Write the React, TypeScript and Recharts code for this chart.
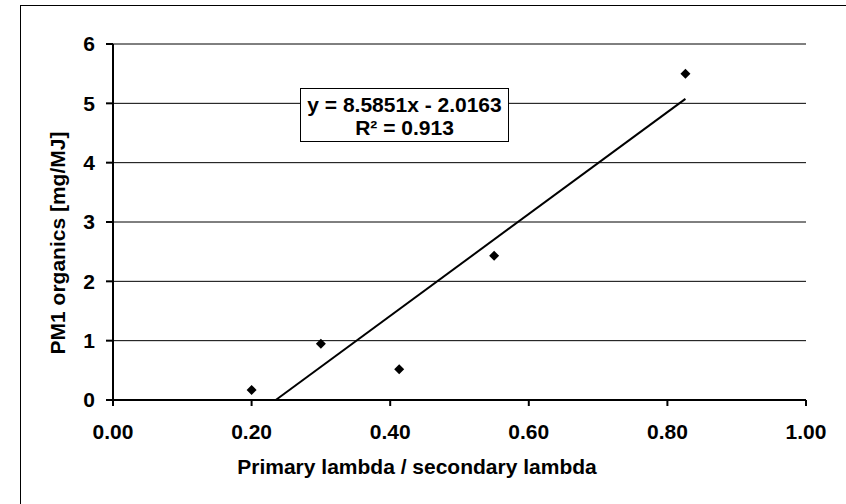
import { CartesianGrid, Label, ReferenceLine, Scatter, ScatterChart, XAxis, YAxis } from "recharts";

const lambdaRatio = [0.2, 0.3, 0.413, 0.55, 0.826];
const pm1Organics = [0.17, 0.95, 0.52, 2.43, 5.5];
const xTicks = [0, 0.2, 0.4, 0.6, 0.8, 1.0];
const yTicks = [0, 1, 2, 3, 4, 5, 6];

// trend line coefficients as printed in the chart
const slope = 8.5851;
const intercept = -2.0163;
const rSquared = 0.913;

const points = lambdaRatio.map((x, i) => ({ x, y: pm1Organics[i] }));

const font = "'Liberation Sans', Arial, sans-serif";
const tickStyle = { fontFamily: font, fontSize: 21, fontWeight: 700, fill: "#000" };

function Diamond(props: any) {
  const { cx, cy } = props;
  const r = 5;
  return <path d={`M${cx},${cy - r}L${cx + r},${cy}L${cx},${cy + r}L${cx - r},${cy}Z`} fill="#000" />;
}

export default function App() {
  const xStart = -intercept / slope;
  const xEnd = Math.max(...lambdaRatio);

  return (
    <div style={{ position: "fixed", left: 0, top: 0, width: 846, height: 504, overflow: "hidden", background: "#fff" }}>
      <div style={{ position: "absolute", left: 20, top: 5, width: 860, height: 540, border: "1px solid #000" }} />
      <ScatterChart width={846} height={504} margin={{ top: 44, right: 40, bottom: 44, left: 53 }} style={{ position: "absolute", left: 0, top: 0 }}>
        <CartesianGrid vertical={false} stroke="#000" strokeWidth={1} />
        <XAxis
          type="number"
          dataKey="x"
          domain={[0, 1]}
          ticks={xTicks}
          tickFormatter={(v) => Number(v).toFixed(2)}
          height={60}
          tickSize={6}
          tickMargin={18}
          tick={tickStyle}
          stroke="#000"
          strokeWidth={2}
        >
          <Label
            content={() => (
              <text x={417} y={474} textAnchor="middle" style={tickStyle}>
                Primary lambda / secondary lambda
              </text>
            )}
          />
        </XAxis>
        <YAxis
          type="number"
          dataKey="y"
          domain={[0, 6]}
          ticks={yTicks}
          width={60}
          tickSize={7}
          tickMargin={11}
          tick={tickStyle}
          stroke="#000"
          strokeWidth={2}
        >
          <Label
            content={() => (
              <text x={65} y={243} textAnchor="middle" transform="rotate(-90, 65, 243)" style={tickStyle}>
                PM1 organics [mg/MJ]
              </text>
            )}
          />
        </YAxis>
        <ReferenceLine
          segment={[
            { x: xStart, y: 0 },
            { x: xEnd, y: slope * xEnd + intercept },
          ]}
          stroke="#000"
          strokeWidth={2}
        />
        <Scatter data={points} shape={Diamond} isAnimationActive={false} />
      </ScatterChart>
      <div
        style={{
          position: "absolute",
          left: 300,
          top: 88,
          width: 209,
          height: 54,
          border: "1.5px solid #000",
          background: "#fff",
          fontFamily: font,
          fontSize: 21,
          fontWeight: 700,
          lineHeight: "23px",
          textAlign: "center",
          paddingTop: 4,
          boxSizing: "border-box",
        }}
      >
        <div>y = {slope}x - {Math.abs(intercept)}</div>
        <div>R² = {rSquared}</div>
      </div>
    </div>
  );
}
